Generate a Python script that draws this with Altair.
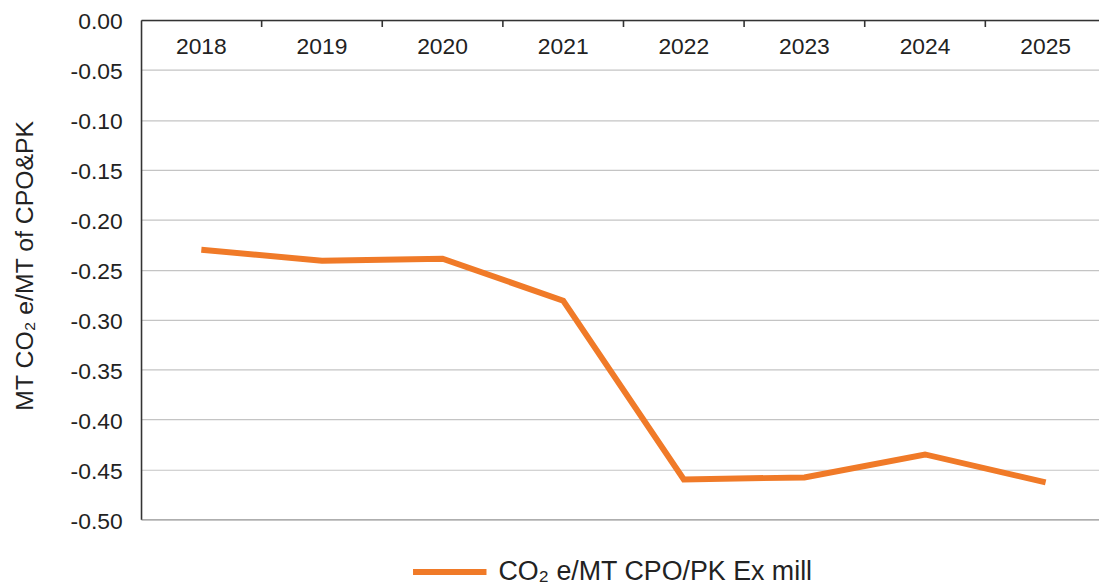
import altair as alt
import pandas as pd

years = ["2018", "2019", "2020", "2021", "2022", "2023", "2024", "2025"]
values = [-0.230, -0.241, -0.239, -0.281, -0.460, -0.458, -0.435, -0.463]
series_name = "CO₂ e/MT CPO/PK Ex mill"
tick_years = years[1:]

df = pd.DataFrame({"year": years, "value": values, "series": [series_name] * len(years)})
ticks_df = pd.DataFrame({"year": tick_years})

FONT = "Liberation Sans"
TEXT = "#222222"

x_scale = alt.Scale(domain=years, range=[0, 972], paddingInner=0, paddingOuter=0)

line = alt.Chart(df).mark_line(strokeWidth=6, strokeCap="butt", strokeJoin="miter").encode(
    x=alt.X(
        "year:N",
        scale=x_scale,
        sort=years,
        axis=alt.Axis(
            orient="top",
            title=None,
            ticks=False,
            tickSize=0,
            labelPadding=-27,
            labelBaseline="middle",
            labelAngle=0,
            labelFont=FONT,
            labelFontSize=23,
            labelColor=TEXT,
            domainColor="#333333",
            domainWidth=1.6,
            grid=False,
        ),
    ),
    y=alt.Y(
        "value:Q",
        scale=alt.Scale(domain=[-0.5, 0], nice=False, zero=False),
        axis=alt.Axis(
            values=[round(-0.05 * i, 2) for i in range(11)],
            labelExpr="replace(format(datum.value, '.2f'), '\u2212', '-')",
            ticks=False,
            labelPadding=19,
            labelOffset=2,
            labelFont=FONT,
            labelFontSize=23,
            labelColor=TEXT,
            domainColor="#333333",
            domainWidth=1.6,
            grid=True,
            gridColor={"condition": {"test": "datum.value <= -0.499", "value": "#9a9a9a"}, "value": "#c4c4c4"},
            gridWidth=1.2,
            title="MT CO₂ e/MT of CPO&PK",
            titleFont=FONT,
            titleFontSize=25,
            titleFontWeight="normal",
            titleColor=TEXT,
            titleAngle=270,
            titleAlign="center",
            titleBaseline="middle",
            titleX=-117,
            titleY=247,
        ),
    ),
    color=alt.Color(
        "series:N",
        scale=alt.Scale(range=["#F07A28"]),
        legend=alt.Legend(
            title=None,
            orient="none",
            legendX=271,
            legendY=516,
            padding=0,
            symbolType="stroke",
            symbolSize=5476,
            symbolStrokeWidth=6,
            symbolOffset=0,
            labelFont=FONT,
            labelFontSize=27,
            labelColor=TEXT,
            labelOffset=9,
            labelLimit=600,
        ),
    ),
)

tick_rules = alt.Chart(ticks_df).mark_rule(color="#333333", strokeWidth=1.6).encode(
    x=alt.X("year:N", scale=x_scale, sort=years, bandPosition=0),
    y=alt.value(0),
    y2=alt.value(7),
)

chart = alt.layer(line, tick_rules).properties(
    width=965,
    height=503,
    autosize=alt.AutoSizeParams(type="none"),
    padding={"left": 134, "top": 10, "right": 0, "bottom": 66},
).configure_view(stroke=None).configure(background="white")

chart.save("out.html", embed_options={"renderer": "svg", "actions": False})
